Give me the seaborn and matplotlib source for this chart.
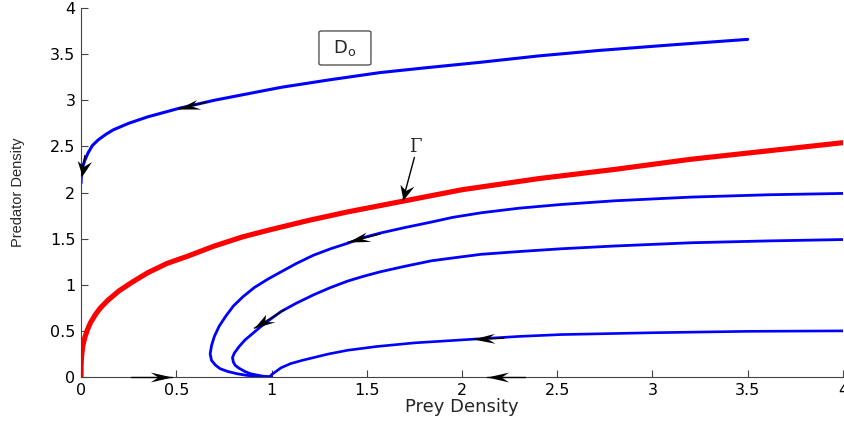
import numpy as np
import matplotlib
matplotlib.use('Agg')
import matplotlib.pyplot as plt
import seaborn as sns
from matplotlib.path import Path
from matplotlib.markers import MarkerStyle
from matplotlib.transforms import Affine2D
from matplotlib.patches import FancyBboxPatch

# Gamma (separatrix)
gamma_x = [0, 0.0005, 0.002, 0.005, 0.01, 0.02, 0.035, 0.05, 0.075, 0.1, 0.14, 0.2, 0.27,
           0.35, 0.45, 0.56, 0.7, 0.85, 1.0, 1.2, 1.4, 1.7, 2.0, 2.4, 2.8, 3.2, 3.6, 4.0]
gamma_y = [0, 0.13, 0.20, 0.27, 0.345, 0.43, 0.52, 0.59, 0.675, 0.745, 0.83, 0.935, 1.03,
           1.13, 1.23, 1.31, 1.42, 1.52, 1.60, 1.70, 1.79, 1.91, 2.03, 2.15, 2.25, 2.36, 2.45, 2.54]

# upper trajectory in region D0
top_x = [3.5, 3.1, 2.72, 2.4, 2.09, 1.8, 1.57, 1.3, 1.05, 0.85, 0.70, 0.51, 0.35, 0.25,
         0.17, 0.13, 0.09, 0.06, 0.037, 0.02, 0.009, 0.002, 0.0]
top_y = [3.66, 3.60, 3.54, 3.48, 3.41, 3.35, 3.30, 3.22, 3.14, 3.06, 3.00, 2.91, 2.82, 2.75,
         2.68, 2.63, 2.57, 2.51, 2.43, 2.35, 2.28, 2.20, 2.10]

# lower trajectories, all ending at (1, 0)
tr1_x = [4.0, 3.6, 3.2, 2.8, 2.52, 2.3, 2.1, 1.95, 1.84, 1.7, 1.57, 1.48, 1.40, 1.31, 1.22,
         1.13, 1.05, 0.98, 0.91, 0.85, 0.80, 0.76, 0.725, 0.70, 0.685, 0.678, 0.685, 0.705,
         0.73, 0.77, 0.82, 0.87, 0.93, 1.0]
tr1_y = [1.99, 1.975, 1.95, 1.91, 1.87, 1.83, 1.78, 1.73, 1.68, 1.62, 1.56, 1.51, 1.45, 1.39,
         1.32, 1.23, 1.14, 1.06, 0.97, 0.87, 0.77, 0.66, 0.55, 0.44, 0.34, 0.25, 0.18, 0.13,
         0.09, 0.06, 0.035, 0.018, 0.007, 0.0]

tr2_x = [4.0, 3.6, 3.2, 2.8, 2.52, 2.3, 2.1, 1.95, 1.84, 1.7, 1.57, 1.48, 1.40, 1.31, 1.22,
         1.13, 1.05, 0.99, 0.94, 0.90, 0.86, 0.83, 0.805, 0.795, 0.80, 0.81, 0.83, 0.86,
         0.89, 0.95, 1.0]
tr2_y = [1.49, 1.475, 1.455, 1.42, 1.39, 1.36, 1.33, 1.29, 1.26, 1.20, 1.14, 1.09, 1.04, 0.97,
         0.89, 0.80, 0.71, 0.62, 0.54, 0.47, 0.40, 0.33, 0.26, 0.21, 0.16, 0.125, 0.095, 0.06,
         0.035, 0.01, 0.0]

tr3_x = [4.0, 3.5, 3.0, 2.52, 2.3, 2.06, 1.75, 1.55, 1.40, 1.30, 1.22, 1.16, 1.10, 1.05,
         1.02, 1.0, 0.99]
tr3_y = [0.50, 0.495, 0.48, 0.46, 0.44, 0.41, 0.37, 0.33, 0.29, 0.25, 0.21, 0.18, 0.145,
         0.10, 0.055, 0.025, 0.0]

# direction arrows: (tail x, tail y, tip x, tip y)
arrows = [
    (0.66, 2.98, 0.51, 2.91),
    (0.02, 2.40, 0.003, 2.18),
    (1.57, 1.55, 1.40, 1.46),
    (1.07, 0.73, 0.91, 0.53),
    (2.22, 0.42, 2.06, 0.41),
    (0.26, 0.0, 0.48, 0.0),
    (2.33, 0.0, 2.13, 0.0),
    (1.75, 2.38, 1.69, 1.92),   # pointer of the Gamma label
]

ticks = [0, 0.5, 1, 1.5, 2, 2.5, 3, 3.5, 4]
tick_labels = ['0', '0.5', '1', '1.5', '2', '2.5', '3', '3.5', '4']

sns.set_style('ticks')
plt.rcParams['font.family'] = ['DejaVu Sans']

fig = plt.figure(figsize=(8.45, 4.21), dpi=100)
ax = fig.add_axes([0.0959, 0.1045, 0.9017, 0.8765])
ax.set_xlim(0, 4)
ax.set_ylim(0, 4)

# estimator=None keeps the points in order (no aggregation over repeated x)
curves = [
    (gamma_x, gamma_y, 'red', 3.7),
    (top_x, top_y, 'blue', 2.2),
    (tr1_x, tr1_y, 'blue', 2.0),
    (tr2_x, tr2_y, 'blue', 2.0),
    (tr3_x, tr3_y, 'blue', 1.9),
]
for xs, ys, col, w in curves:
    sns.lineplot(x=xs, y=ys, sort=False, estimator=None, color=col, lw=w, ax=ax)

# MATLAB-like barbed arrow heads (the picture is stretched sideways)
stretch = 1.45
head = Path([(0, 0), (-1, 0.33), (-0.65, 0), (-1, -0.33), (0, 0)],
            [Path.MOVETO, Path.LINETO, Path.LINETO, Path.LINETO, Path.CLOSEPOLY])
for x0, y0, x1, y1 in arrows:
    p0 = ax.transData.transform((x0, y0))
    p1 = ax.transData.transform((x1, y1))
    ang = np.degrees(np.arctan2(p1[1] - p0[1], (p1[0] - p0[0]) / stretch))
    m = MarkerStyle(head, transform=Affine2D().rotate_deg(ang).scale(stretch, 1))
    ax.plot([x0, x1], [y0, y1], color='black', lw=1.0, zorder=5, clip_on=False)
    ax.plot([x1], [y1], marker=m, ms=21.6, color='black', mew=0, zorder=6, clip_on=False)

ax.text(1.755, 2.49, 'Γ', ha='center', va='center', fontsize=13, family='DejaVu Serif')

# D0 label box
ax.add_patch(FancyBboxPatch((1.249, 3.382), 0.273, 0.369,
                            boxstyle='round,pad=0,rounding_size=0.015',
                            fc='white', ec='#555555', lw=1.0, zorder=4))
ax.text(1.386, 3.57, r'D$_{\mathregular{o}}$', ha='center', va='center', fontsize=13, zorder=5)

ax.set_xticks(ticks)
ax.set_xticklabels(tick_labels)
ax.set_yticks(ticks)
ax.set_yticklabels(tick_labels)
ax.tick_params(direction='in', length=5, width=0.8, colors='#444444', labelcolor='black',
               labelsize=11.5, pad=4)
sns.despine(ax=ax)
for s in ['left', 'bottom']:
    ax.spines[s].set_color('#444444')
    ax.spines[s].set_linewidth(0.8)

ax.set_xlabel('Prey Density', fontsize=13, labelpad=0)
ax.set_ylabel('Predator Density', fontsize=10.5, labelpad=18, family='Liberation Sans')

fig.savefig('out.png', dpi=100)
